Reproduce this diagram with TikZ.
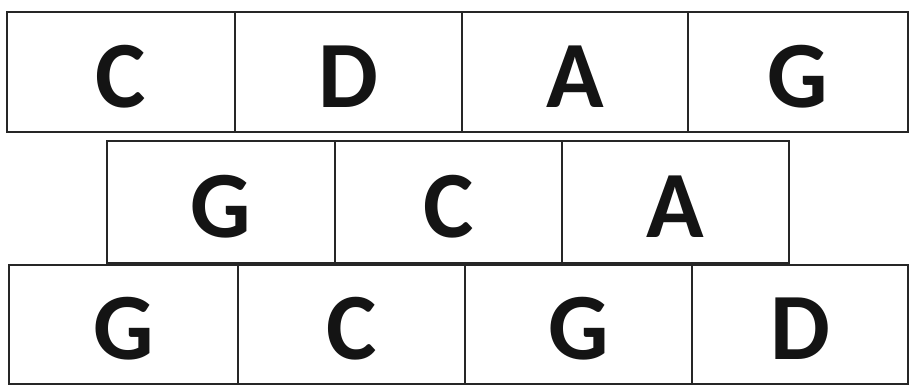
\documentclass[tikz,border=0pt]{standalone}
\usepackage{fontspec}
\setmainfont{Carlito}
\usepackage{tikz}
\usetikzlibrary{positioning}

\tikzset{
  cell/.style={draw=black!85,line width=1.6pt,rectangle,inner sep=0pt,outer sep=0pt,
    align=center,text height=71pt,text depth=0pt,
    font=\bfseries\fontsize{95}{95}\selectfont,text=black!92},
  toprow/.style={cell,minimum height=120pt},
  midrow/.style={cell,minimum height=122pt},
  lowrow/.style={cell,minimum height=119pt}
}

\begin{document}
\begin{tikzpicture}[x=1pt,y=1pt]
\useasboundingbox (0,0) rectangle (911,388);
% top row
\node[toprow,minimum width=228pt] (ta) at (121,316) {C};
\node[toprow,minimum width=227pt] (tb) at (348.5,316) {D};
\node[toprow,minimum width=226pt] (tc) at (575,316) {A};
\node[toprow,minimum width=220pt] (td) at (798,316) {G};
% middle row
\node[midrow,minimum width=228pt] (ma) at (221,186) {G};
\node[midrow,minimum width=227pt] (mb) at (448.5,186) {C};
\node[midrow,minimum width=227pt] (mc) at (675.5,186) {A};
% bottom row
\node[lowrow,minimum width=229pt] (la) at (123.5,63.5) {G};
\node[lowrow,minimum width=227pt] (lb) at (351.5,63.5) {C};
\node[lowrow,minimum width=227pt] (lc) at (578.5,63.5) {G};
\node[lowrow,minimum width=216pt] (ld) at (800,63.5) {D};
\end{tikzpicture}
\end{document}
